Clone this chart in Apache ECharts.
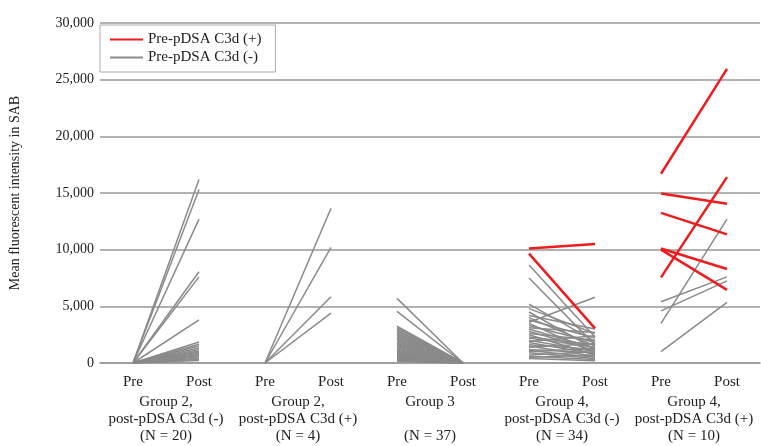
<!DOCTYPE html>
<html>
<head>
<meta charset="utf-8">
<script src="https://cdn.jsdelivr.net/npm/echarts@6/dist/echarts.min.js"></script>
<style>html,body{margin:0;padding:0;background:#fff;}#c{width:761px;height:446px;}</style>
</head>
<body>
<div id="c"></div>
<script>
const tickLabels = ['Pre','Post','Pre','Post','Pre','Post','Pre','Post','Pre','Post'];
const groupLabels = [
  'Group 2,\npost-pDSA C3d (-)\n(N = 20)',
  'Group 2,\npost-pDSA C3d (+)\n(N = 4)',
  'Group 3\n\n(N = 37)',
  'Group 4,\npost-pDSA C3d (-)\n(N = 34)',
  'Group 4,\npost-pDSA C3d (+)\n(N = 10)'
];
const yTicks = [0, 5000, 10000, 15000, 20000, 25000, 30000];
const legendNames = ['Pre-pDSA C3d (+)', 'Pre-pDSA C3d (-)'];

// [pre, post] pairs per group
const g2NegGray = [[0,16200],[0,15300],[0,12700],[0,8050],[0,7600],[0,3800],[0,1850],[0,1650],[0,1500],[0,1320],[0,1180],[0,1050],[0,960],[0,870],[0,760],[0,640],[0,560],[0,430],[0,330],[0,230]];
const g2PosGray = [[0,13650],[0,10200],[0,5850],[0,4400]];
const g3Gray = [[5700,0],[4550,0],[3250,0],[3120,0],[3010,0],[2880,0],[2790,0],[2650,0],[2530,0],[2440,0],[2310,0],[2190,0],[2100,0],[1960,0],[1880,0],[1750,0],[1660,0],[1540,0],[1430,0],[1350,0],[1220,0],[1150,0],[1030,0],[950,0],[860,0],[770,0],[690,0],[620,0],[560,0],[480,0],[420,0],[370,0],[310,0],[260,0],[220,0],[190,0],[150,0]];
const g4NegRed = [[10100,10500],[9650,3050]];
const g4NegGray = [[8650,2300],[7500,1600],[3600,5800],[5200,1900],[4800,2600],[4500,1200],[4200,3000],[4000,1500],[3800,2200],[3500,900],[3300,1800],[3100,2700],[3000,1300],[2800,1100],[2600,2000],[2500,700],[2300,1600],[2200,1400],[2000,1000],[1900,2400],[1800,800],[1600,1200],[1500,600],[1400,1700],[1200,900],[1100,500],[1000,1300],[900,400],[700,1000],[600,300],[500,700],[400,200]];
const g4PosRed = [[16700,25950],[14950,14050],[13250,11350],[10100,8300],[10000,6450],[7550,16400]];
const g4PosGray = [[5400,7600],[4600,7250],[3500,12700],[1000,5350]];

const groups = [
  {idx:0, gray:g2NegGray, red:[]},
  {idx:1, gray:g2PosGray, red:[]},
  {idx:2, gray:g3Gray, red:[]},
  {idx:3, gray:g4NegGray, red:g4NegRed},
  {idx:4, gray:g4PosGray, red:g4PosRed}
];

const RED = '#ee1c1c', GRAY = '#8a8a8a';
function makeSeries(pair, gi, isRed) {
  const d = new Array(10).fill(null);
  d[gi*2] = pair[0];
  d[gi*2+1] = pair[1];
  return {
    type: 'line', name: isRed ? legendNames[0] : legendNames[1],
    data: d, symbol: 'none', connectNulls: false, silent: true,
    z: isRed ? 4 : 3,
    color: isRed ? RED : GRAY,
    lineStyle: {color: isRed ? RED : GRAY, width: isRed ? 2.5 : 1.5}
  };
}
const series = [];
groups.forEach(g => g.gray.forEach(p => series.push(makeSeries(p, g.idx, false))));
groups.forEach(g => g.red.forEach(p => series.push(makeSeries(p, g.idx, true))));

const FONT = '"Liberation Serif", "DejaVu Serif", serif';
const chart = echarts.init(document.getElementById('c'), null, {renderer: 'canvas'});
chart.setOption({
  animation: false,
  backgroundColor: '#fff',
  textStyle: {fontFamily: FONT},
  grid: {left: 100, right: 1, top: 23, bottom: 83, containLabel: false},
  legend: {
    data: legendNames, orient: 'vertical', left: 100, top: 25,
    backgroundColor: '#fff', borderColor: '#aaa', borderWidth: 1,
    padding: [7, 14, 7, 10], itemGap: 3, itemWidth: 33, itemHeight: 2,
    icon: 'rect',
    textStyle: {fontFamily: FONT, fontSize: 15, color: '#222'}
  },
  xAxis: [{
    type: 'category', data: tickLabels, boundaryGap: true,
    axisLine: {show: true, lineStyle: {color: '#999', width: 1.5}},
    axisTick: {show: false},
    axisLabel: {fontFamily: FONT, fontSize: 15, color: '#222', margin: 12, interval: 0}
  }, {
    type: 'category', data: groupLabels, position: 'bottom', boundaryGap: true,
    axisLine: {show: false}, axisTick: {show: false},
    axisLabel: {fontFamily: FONT, fontSize: 15, color: '#222', margin: 31, interval: 0, lineHeight: 17}
  }],
  yAxis: {
    type: 'value', min: 0, max: 30000, interval: 5000,
    name: 'Mean fluorescent intensity in SAB', nameLocation: 'middle', nameGap: 78,
    nameRotate: 90,
    nameTextStyle: {fontFamily: FONT, fontSize: 14, color: '#222'},
    axisLine: {show: false}, axisTick: {show: false},
    splitLine: {show: true, lineStyle: {color: '#999', width: 1.5}},
    axisLabel: {fontFamily: FONT, fontSize: 14, color: '#222', margin: 6,
      formatter: v => yTicks.includes(v) ? v.toLocaleString('en-US') : ''}
  },
  series: series
});
</script>
</body>
</html>
